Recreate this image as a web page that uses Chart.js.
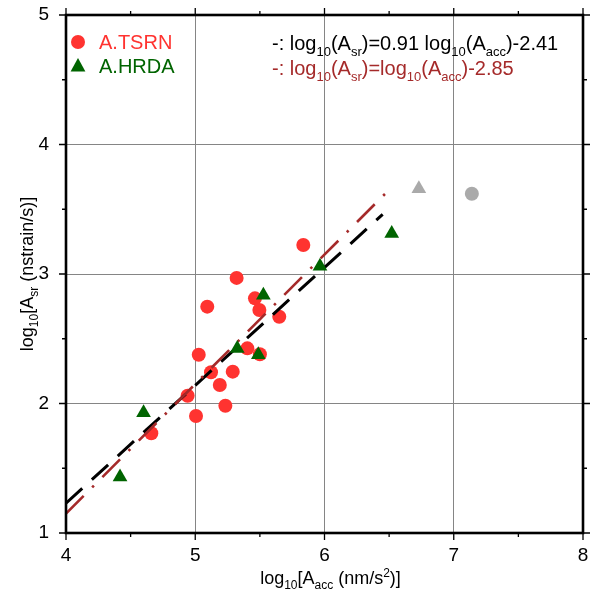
<!DOCTYPE html>
<html>
<head>
<meta charset="utf-8">
<script src="https://cdn.jsdelivr.net/npm/chart.js@4.4.1/dist/chart.umd.min.js"></script>
<style>
  html, body { margin: 0; padding: 0; background: #fff; }
  #wrap { width: 592px; height: 595px; }
</style>
</head>
<body>
<div id="wrap"><canvas id="plot"></canvas></div>
<script>
// ─── Data ───────────────────────────────────────────────────────────────
const tsrnX = [5.836, 5.32, 5.093, 5.462, 5.496, 5.65, 5.403, 5.50, 5.027, 5.122, 5.29, 5.19, 4.941, 5.233, 5.006, 4.66];
const tsrnY = [3.224, 2.97, 2.748, 2.812, 2.722, 2.67, 2.426, 2.38, 2.377, 2.241, 2.246, 2.143, 2.06, 1.983, 1.903, 1.77];

const hrdaX = [4.418, 4.60, 5.325, 5.488, 5.527, 5.965, 6.52];
const hrdaY = [1.433, 1.929, 2.425, 2.377, 2.835, 3.06, 3.312];

// excluded points (grey)
const greyCircleX = [7.14];
const greyCircleY = [3.62];
const greyTriX = [6.73];
const greyTriY = [3.659];

// fitted lines (end points)
const fitX = [4, 6.45];
const fitY = [1.23, 3.46];
const fixedX = [4, 6.47];
const fixedY = [1.15, 3.62];

const xTickLabels = ["4", "5", "6", "7", "8"];
const yTickLabels = ["1", "2", "3", "4", "5"];

// ─── Colours ────────────────────────────────────────────────────────────
const RED = "#ff3330";
const GREEN = "#006400";
const GREY = "#aaaaaa";
const BROWN = "#a52a2a";
const FONT = "'Liberation Sans', Arial, sans-serif";

const pts = (xs, ys) => xs.map((x, i) => ({ x, y: ys[i] }));

// ─── Rich text helper (subscripts / superscripts) ───────────────────────
function richWidth(ctx, parts, size, small) {
  let w = 0;
  for (const [t, k] of parts) {
    ctx.font = `${k ? small : size}px ${FONT}`;
    w += ctx.measureText(t).width;
  }
  return w;
}

function richText(ctx, parts, x, y, size, small, color, align) {
  const w = richWidth(ctx, parts, size, small);
  let cx = align === "center" ? x - w / 2 : x;
  ctx.fillStyle = color;
  ctx.textBaseline = "alphabetic";
  ctx.textAlign = "left";
  for (const [t, k] of parts) {
    ctx.font = `${k ? small : size}px ${FONT}`;
    const dy = k === "sub" ? size * 0.28 : k === "sup" ? -size * 0.38 : 0;
    ctx.fillText(t, cx, y + dy);
    cx += ctx.measureText(t).width;
  }
}

// ─── Frame, ticks, legend, titles ───────────────────────────────────────
const decorPlugin = {
  id: "decor",
  afterDraw(chart) {
    const { ctx, chartArea: a, scales } = chart;
    ctx.save();

    // outward ticks on all four sides
    ctx.strokeStyle = "#000";
    ctx.lineWidth = 1.3;
    ctx.beginPath();
    for (const t of scales.x.ticks) {
      const px = scales.x.getPixelForValue(t.value);
      const len = Number.isInteger(t.value) ? 7 : 4;
      ctx.moveTo(px, a.bottom); ctx.lineTo(px, a.bottom + len);
      ctx.moveTo(px, a.top); ctx.lineTo(px, a.top - len);
    }
    for (const t of scales.y.ticks) {
      const py = scales.y.getPixelForValue(t.value);
      const len = Number.isInteger(t.value) ? 7 : 4;
      ctx.moveTo(a.left, py); ctx.lineTo(a.left - len, py);
      ctx.moveTo(a.right, py); ctx.lineTo(a.right + len, py);
    }
    ctx.stroke();

    // frame
    ctx.lineWidth = 2.6;
    ctx.strokeRect(a.left, a.top, a.right - a.left, a.bottom - a.top);

    // legend symbols
    ctx.fillStyle = RED;
    ctx.beginPath(); ctx.arc(78, 42, 7, 0, Math.PI * 2); ctx.fill();
    ctx.fillStyle = GREEN;
    ctx.beginPath();
    ctx.moveTo(78, 58); ctx.lineTo(85.4, 71.5); ctx.lineTo(70.6, 71.5); ctx.closePath();
    ctx.fill();

    ctx.font = `20px ${FONT}`;
    ctx.textBaseline = "middle";
    ctx.textAlign = "left";
    ctx.fillStyle = RED;
    ctx.fillText("A.TSRN", 99, 43);
    ctx.fillStyle = GREEN;
    ctx.fillText("A.HRDA", 99, 67);

    // fit equations
    richText(ctx, [["-: log"], ["10", "sub"], ["(A"], ["sr", "sub"], [")=0.91 log"], ["10", "sub"], ["(A"], ["acc", "sub"], [")-2.41"]],
      272, 50, 20, 13, "#000", "left");
    richText(ctx, [["-: log"], ["10", "sub"], ["(A"], ["sr", "sub"], [")=log"], ["10", "sub"], ["(A"], ["acc", "sub"], [")-2.85"]],
      272, 75, 20, 13, BROWN, "left");

    // axis titles
    richText(ctx, [["log"], ["10", "sub"], ["[A"], ["acc", "sub"], [" (nm/s"], ["2", "sup"], [")]"]],
      (a.left + a.right) / 2 + 6, 584, 18, 12, "#000", "center");
    ctx.translate(33, (a.top + a.bottom) / 2);
    ctx.rotate(-Math.PI / 2);
    richText(ctx, [["log"], ["10", "sub"], ["[A"], ["sr", "sub"], [" (nstrain/s)]"]],
      0, 0, 18, 12, "#000", "center");

    ctx.restore();
  },
};

// ─── Chart ──────────────────────────────────────────────────────────────
const gridColor = (c) =>
  c.tick && Number.isInteger(c.tick.value) ? "#858585" : "rgba(0,0,0,0)";

const noPad = (s) => {
  s.paddingTop = 0; s.paddingBottom = 0; s.paddingLeft = 0; s.paddingRight = 0;
};

new Chart(document.getElementById("plot"), {
  type: "scatter",
  data: {
    datasets: [
      {
        label: "A.TSRN",
        data: pts(tsrnX, tsrnY),
        pointStyle: "circle",
        pointRadius: 7,
        pointBackgroundColor: RED,
        pointBorderWidth: 0,
        order: 4,
      },
      {
        label: "grey circle",
        data: pts(greyCircleX, greyCircleY),
        pointStyle: "circle",
        pointRadius: 7,
        pointBackgroundColor: GREY,
        pointBorderWidth: 0,
        order: 4,
      },
      {
        label: "fit",
        type: "line",
        data: pts(fitX, fitY),
        borderColor: "#000",
        borderWidth: 3,
        borderDash: [22, 13],
        pointRadius: 0,
        order: 3,
      },
      {
        label: "fixed slope",
        type: "line",
        data: pts(fixedX, fixedY),
        borderColor: BROWN,
        borderWidth: 2.6,
        borderDash: [25, 12, 2.5, 12],
        pointRadius: 0,
        order: 2,
      },
      {
        label: "A.HRDA",
        data: pts(hrdaX, hrdaY),
        pointStyle: "triangle",
        pointRadius: 8.5,
        pointBackgroundColor: GREEN,
        pointBorderWidth: 0,
        order: 1,
      },
      {
        label: "grey triangle",
        data: pts(greyTriX, greyTriY),
        pointStyle: "triangle",
        pointRadius: 8.5,
        pointBackgroundColor: GREY,
        pointBorderWidth: 0,
        order: 1,
      },
    ],
  },
  options: {
    responsive: true,
    maintainAspectRatio: false,
    animation: false,
    layout: { padding: { top: 15, right: 9, left: 0, bottom: 0 } },
    plugins: { legend: { display: false }, tooltip: { enabled: false } },
    scales: {
      x: {
        type: "linear",
        min: 4,
        max: 8,
        afterFit: (s) => { s.height = 62; noPad(s); },
        ticks: {
          stepSize: 0.5,
          autoSkip: false,
          maxRotation: 0,
          padding: 11,
          color: "#000",
          font: { family: FONT, size: 19 },
          callback: (v) => (Number.isInteger(v) ? xTickLabels[v - 4] : ""),
        },
        grid: { color: gridColor, lineWidth: 1, drawTicks: false },
        border: { display: false },
      },
      y: {
        type: "linear",
        min: 1,
        max: 5,
        afterFit: (s) => { s.width = 66; noPad(s); },
        ticks: {
          stepSize: 0.5,
          autoSkip: false,
          padding: 17,
          color: "#000",
          font: { family: FONT, size: 19 },
          callback: (v) => (Number.isInteger(v) ? yTickLabels[v - 1] : ""),
        },
        grid: { color: gridColor, lineWidth: 1, drawTicks: false },
        border: { display: false },
      },
    },
  },
  plugins: [decorPlugin],
});
</script>
</body>
</html>
